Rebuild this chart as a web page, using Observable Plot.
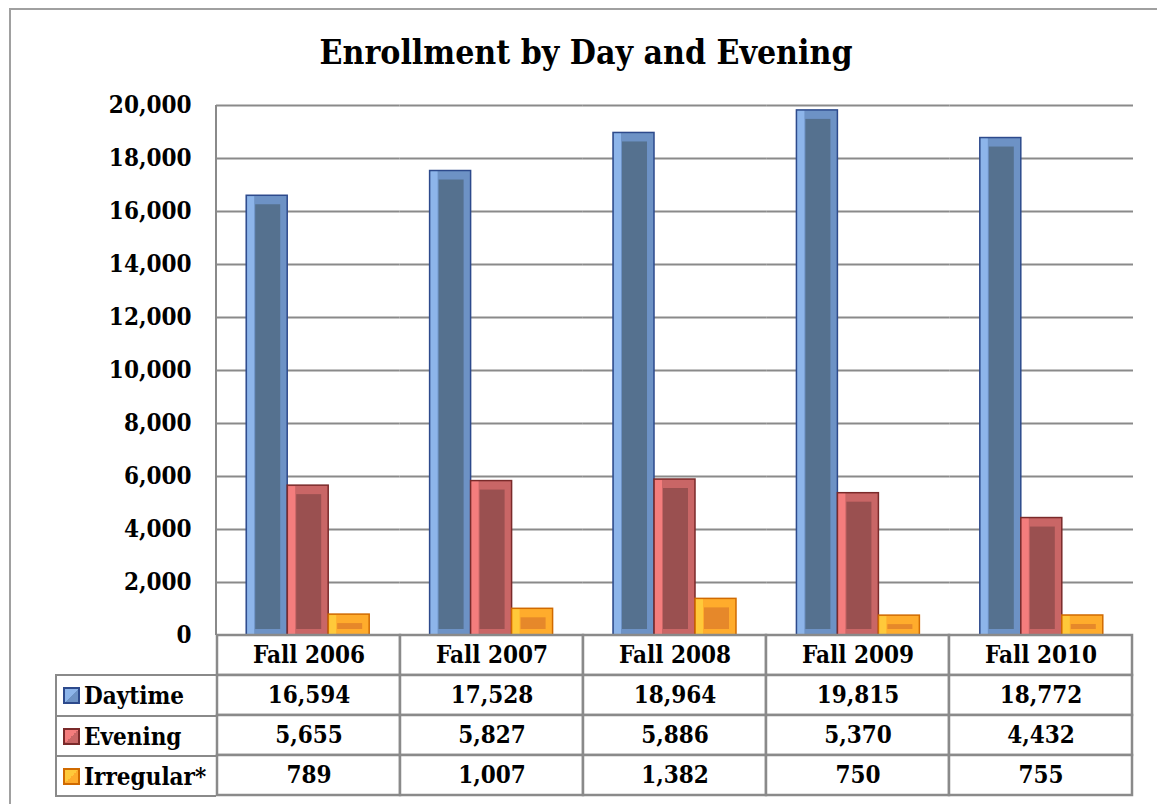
<!DOCTYPE html>
<html><head><meta charset="utf-8">
<script src="https://cdn.jsdelivr.net/npm/d3@7"></script>
<script src="https://cdn.jsdelivr.net/npm/@observablehq/plot@0.6"></script>
<style>
body{margin:0;background:#fff;width:1157px;height:804px;overflow:hidden;position:relative;font-family:"DejaVu Serif Condensed","DejaVu Serif",serif;font-stretch:condensed;font-weight:bold;color:#000;}
#frame{position:absolute;left:9px;top:8px;width:1200px;height:900px;border:2px solid #a0a0a0;}
#title{position:absolute;left:0;width:1172px;top:32px;text-align:center;font-size:33.5px;line-height:42px;}
#chart,#table{position:absolute;left:0;}
#chart{top:0;}
#table{top:635px;}
#vline{position:absolute;background:#8a8a8a;width:2px;}
#legend{position:absolute;left:55px;top:674px;width:161px;border:2.5px solid #8a8a8a;border-right:none;box-sizing:border-box;}
#legend .row{height:40px;display:flex;align-items:center;font-size:24px;border-top:2.5px solid #8a8a8a;box-sizing:border-box;}
#legend .row:first-child{border-top:none;height:39px;}
#legend .sw{width:13px;height:13px;border:2px solid;margin:0 4px 0 6px;}
</style>
</head><body>
<div id="frame"></div>
<div id="title">Enrollment by Day and Evening</div>
<div id="chart"></div>
<div id="table"></div>
<div id="vline"></div>
<div id="legend"></div>
<script>
// ---- data ----
const years = ["Fall 2006", "Fall 2007", "Fall 2008", "Fall 2009", "Fall 2010"];
const seriesNames = ["Daytime", "Evening", "Irregular*"];
const daytime = [16594, 17528, 18964, 19815, 18772];
const evening = [5655, 5827, 5886, 5370, 4432];
const irregular = [789, 1007, 1382, 750, 755];
const yTicks = [0, 2000, 4000, 6000, 8000, 10000, 12000, 14000, 16000, 18000, 20000];

// ---- styles ----
const pal = {
  "Daytime":    {light: "#8DB5EA", mid: "#6D92C5", dark: "#55718F", edge: "#2D4A8C"},
  "Evening":    {light: "#F47D7D", mid: "#C96666", dark: "#9A5050", edge: "#7A2A2A"},
  "Irregular*": {light: "#FFC93A", mid: "#FFAC2C", dark: "#E6882A", edge: "#D06A00"}
};
const fontFam = '"DejaVu Serif Condensed","DejaVu Serif",serif';
const seriesValues = [daytime, evening, irregular];
const rows = years.flatMap((yr, i) => seriesNames.map((s, j) => ({year: yr, series: s, value: seriesValues[j][i]})));
const fmt = d3.format(",");

const chart = Plot.plot({
  width: 1157, height: 636,
  marginLeft: 216, marginRight: 24, marginTop: 105, marginBottom: 1,
  facet: {data: rows, x: "year"},
  fx: {domain: years, padding: 0, axis: null, round: false},
  x: {domain: seriesNames, paddingInner: 0, paddingOuter: 0.737, axis: null, round: false},
  y: {domain: [0, 20000], ticks: yTicks, tickFormat: fmt, tickSize: 0, tickPadding: 25, label: null},
  style: {fontFamily: fontFam, fontSize: "24px", fontWeight: "bold", fontStretch: "condensed", background: "transparent", overflow: "visible", color: "#000"},
  marks: [
    Plot.ruleY(yTicks, {y: d => d, stroke: "#8a8a8a", strokeWidth: 2}),
    Plot.barY(rows, {x: "series", y: "value", fill: d => pal[d.series].mid, stroke: d => pal[d.series].edge, strokeWidth: 1.5}),
    Plot.barY(rows, {x: "series", y: "value", fill: d => pal[d.series].light, insetLeft: 1, insetRight: 33, insetTop: 1, insetBottom: 1}),
    Plot.barY(rows, {x: "series", y: "value", fill: d => pal[d.series].dark, insetLeft: 9, insetRight: 7, insetTop: 9, insetBottom: 6})
  ]
});
document.getElementById("chart").appendChild(chart);

// vertical axis line at left edge of plot area
const ys = chart.scale("y");
const vl = document.getElementById("vline");
vl.style.left = (216 - 1) + "px";
vl.style.top = Math.min(...ys.range) + "px";
vl.style.height = (Math.max(...ys.range) - Math.min(...ys.range)) + "px";

// ---- data table ----
const cells = years.map(yr => ({year: yr, row: "Year", label: yr}))
  .concat(rows.map(d => ({year: d.year, row: d.series, label: fmt(d.value)})));
const tbl = Plot.plot({
  width: 1157, height: 169,
  marginLeft: 216, marginRight: 24, marginTop: 0, marginBottom: 9,
  x: {domain: years, padding: 0, axis: null},
  y: {domain: ["Year", ...seriesNames], padding: 0, axis: null},
  style: {fontFamily: fontFam, fontSize: "24px", fontWeight: "bold", fontStretch: "condensed", background: "transparent", overflow: "visible", color: "#000"},
  marks: [
    Plot.cell(cells, {x: "year", y: "row", fill: "white", stroke: "#8a8a8a", strokeWidth: 2.5, inset: 0}),
    Plot.text(cells, {x: "year", y: "row", text: "label", fontSize: 24, fontWeight: "bold", dy: 0})
  ]
});
document.getElementById("table").appendChild(tbl);

// ---- legend column ----
const lg = document.getElementById("legend");
seriesNames.forEach(s => {
  const r = document.createElement("div");
  r.className = "row";
  const sw = document.createElement("span");
  sw.className = "sw";
  sw.style.borderColor = pal[s].edge;
  sw.style.background = `linear-gradient(135deg, ${pal[s].light} 0%, ${pal[s].light} 50%, ${pal[s].mid} 50%, ${pal[s].mid} 100%)`;
  const t = document.createElement("span");
  t.textContent = s;
  r.appendChild(sw); r.appendChild(t);
  lg.appendChild(r);
});
</script>
</body></html>
